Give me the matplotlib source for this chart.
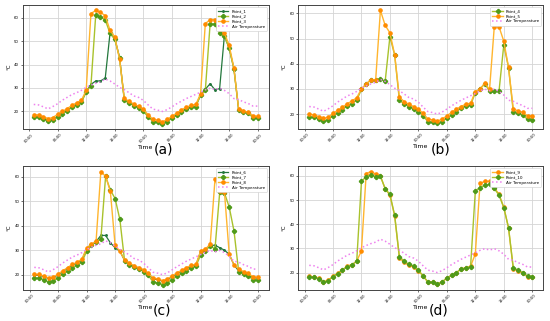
import numpy as np
import matplotlib
matplotlib.use("Agg")
import matplotlib.pyplot as plt

# hourly readings, hour 1 .. 48 (two days)
hours = np.arange(1, 49)
tick_hours = [0, 6, 12, 18, 24, 30, 36, 42, 48]
tick_labels = ["00:00", "06:00", "12:00", "18:00", "00:00", "06:00", "12:00", "18:00", "00:00"]

air_temp = [23.0, 22.8, 22.0, 21.1, 22.1, 23.3, 24.8, 26.0, 27.2, 28.0, 29.0, 30.3, 31.2, 32.0, 32.6, 33.8,
            33.0, 31.7, 30.3, 29.3, 28.0, 26.6, 26.0, 24.7, 22.8, 21.0, 20.6, 20.0, 20.8, 22.0, 23.3, 24.4,
            25.5, 26.4, 27.3, 28.2, 29.2, 29.9, 29.3, 29.9, 29.0, 27.6, 25.5, 25.1, 24.1, 23.4, 22.3, 22.3]

point_1 = [17.9, 17.8, 17.1, 16.2, 16.6, 18.0, 19.3, 20.5, 21.9, 23.0, 24.1, 28.5, 31.5, 33.0, 33.0, 34.2,
           53.3, 51.0, 43.2, 25.0, 23.7, 22.7, 21.7, 20.3, 18.0, 15.9, 15.6, 15.0, 15.9, 17.3, 18.6, 20.0,
           21.1, 22.0, 22.3, 27.0, 29.5, 31.8, 29.3, 29.7, 52.3, 47.0, 38.3, 20.7, 20.0, 19.5, 17.6, 17.4]
point_2 = [17.7, 17.6, 16.9, 16.0, 16.4, 17.8, 19.1, 20.3, 21.7, 22.8, 23.9, 28.3, 31.0, 61.0, 60.2, 59.0,
           53.3, 50.8, 42.8, 24.8, 23.5, 22.5, 21.5, 20.1, 17.8, 15.7, 15.4, 14.8, 15.7, 17.1, 18.4, 19.8,
           20.9, 21.8, 22.1, 27.0, 29.0, 57.2, 57.2, 53.5, 52.0, 47.0, 38.0, 20.5, 19.8, 19.3, 17.4, 17.2]
point_3 = [18.6, 18.5, 17.8, 17.0, 17.4, 18.8, 20.0, 21.2, 22.6, 23.7, 24.8, 29.0, 61.7, 63.0, 62.2, 60.8,
           54.6, 51.8, 42.4, 25.6, 24.3, 23.2, 22.2, 20.9, 18.6, 16.6, 16.3, 15.6, 16.6, 18.0, 19.3, 20.7,
           21.8, 22.6, 23.0, 27.5, 57.4, 59.1, 59.1, 55.0, 53.4, 48.2, 38.5, 21.0, 20.3, 19.6, 18.2, 17.9]

point_4 = [18.7, 18.8, 18.0, 17.3, 17.8, 19.3, 20.5, 21.8, 23.2, 24.2, 25.5, 29.8, 32.0, 33.5, 33.5, 34.0,
           33.0, 50.8, 43.5, 25.5, 24.0, 23.0, 22.0, 21.0, 19.3, 17.0, 16.7, 16.3, 17.0, 18.3, 19.7, 21.0,
           22.3, 23.3, 23.6, 28.5, 30.0, 32.0, 29.2, 29.2, 29.2, 47.5, 38.5, 21.0, 20.3, 19.5, 18.0, 17.8]
point_5 = [20.0, 19.7, 19.0, 18.3, 18.7, 20.3, 21.5, 22.7, 24.1, 25.2, 26.5, 30.0, 32.0, 33.7, 33.7, 61.2,
           55.3, 52.3, 43.6, 26.7, 25.0, 23.9, 23.0, 22.0, 20.3, 18.0, 17.7, 17.2, 18.0, 19.3, 20.7, 22.0,
           23.0, 24.0, 24.3, 28.9, 30.0, 32.3, 29.8, 54.8, 54.7, 49.0, 38.6, 22.0, 21.3, 20.7, 19.3, 19.3]

point_6 = [19.8, 19.8, 19.2, 18.4, 18.7, 20.0, 21.3, 22.6, 23.9, 24.8, 26.0, 30.5, 32.0, 33.5, 36.0, 36.0,
           33.0, 31.0, 29.6, 25.8, 24.4, 23.4, 22.6, 21.8, 20.2, 18.3, 18.0, 17.3, 18.0, 19.2, 20.5, 21.5,
           22.6, 23.5, 23.9, 29.5, 30.0, 32.0, 32.0, 31.0, 30.0, 28.3, 24.0, 21.5, 20.8, 20.0, 18.8, 18.6]
point_7 = [18.6, 18.6, 18.0, 17.0, 17.5, 18.8, 20.2, 21.5, 22.8, 23.8, 25.1, 29.5, 32.0, 33.3, 34.5, 60.1,
           54.5, 51.0, 42.5, 25.5, 24.0, 23.0, 22.2, 21.3, 19.7, 17.0, 16.7, 16.0, 16.8, 18.0, 19.3, 20.5,
           21.7, 22.7, 23.4, 28.2, 29.8, 31.7, 30.5, 53.7, 53.3, 47.5, 37.8, 21.0, 20.3, 19.5, 18.0, 17.8]
point_8 = [20.1, 20.1, 19.5, 18.7, 19.0, 20.3, 21.6, 22.9, 24.2, 25.1, 26.3, 30.8, 32.4, 33.7, 62.0, 60.1,
           53.9, 32.0, 29.5, 26.0, 24.7, 23.7, 22.9, 22.1, 20.5, 18.6, 18.3, 17.6, 18.3, 19.5, 20.8, 21.8,
           22.9, 23.8, 24.2, 29.7, 30.5, 32.4, 58.8, 53.9, 53.5, 28.3, 24.0, 22.3, 21.3, 20.5, 19.2, 19.0]

point_9 = [18.4, 18.1, 17.6, 16.2, 16.8, 18.4, 19.7, 21.1, 22.6, 23.3, 24.7, 29.0, 61.0, 61.8, 60.8, 59.9,
           54.7, 52.0, 43.5, 26.0, 24.3, 23.0, 22.3, 20.8, 18.6, 16.1, 15.9, 15.3, 16.1, 17.7, 18.9, 20.0,
           21.4, 22.0, 22.6, 27.7, 56.9, 57.8, 57.8, 55.0, 52.5, 47.0, 38.5, 21.5, 20.8, 19.8, 18.3, 18.0]
point_10 = [18.3, 18.0, 17.5, 16.1, 16.7, 18.3, 19.6, 21.0, 22.5, 23.2, 24.6, 57.7, 59.7, 60.4, 59.6, 59.9,
            54.7, 52.4, 43.7, 26.5, 24.8, 23.4, 22.8, 21.0, 18.6, 16.1, 15.9, 15.3, 16.1, 17.7, 18.9, 20.0,
            21.4, 22.0, 22.5, 53.8, 55.2, 56.1, 56.6, 54.8, 52.0, 46.9, 38.6, 22.0, 21.0, 20.0, 18.6, 18.2]

# line styles
dark = dict(color="#23773c", lw=0.9, marker=".", ms=2.2)
lime = dict(color="#a9c22c", lw=1.0, marker="P", ms=2.8, mfc="#4f9a1a", mec="#4f9a1a")
oran = dict(color="#ffb52e", lw=1.0, marker="o", ms=2.3, mfc="#ff8c00", mec="#ff8c00")
air = dict(color="violet", lw=1.1, ls=":")

fig = plt.figure(figsize=(5.5, 3.21), dpi=100)

panels = [
    ([0.041, 0.597, 0.448, 0.388], [("Point_1", point_1, dark), ("Point_2", point_2, lime), ("Point_3", point_3, oran)], "(a)", (0.297, 0.535)),
    ([0.542, 0.598, 0.446, 0.387], [("Point_4", point_4, lime), ("Point_5", point_5, oran)], "(b)", (0.802, 0.535)),
    ([0.042, 0.096, 0.447, 0.387], [("Point_6", point_6, dark), ("Point_7", point_7, lime), ("Point_8", point_8, oran)], "(c)", (0.295, 0.032)),
    ([0.542, 0.098, 0.446, 0.385], [("Point_9", point_9, oran), ("Point_10", point_10, lime)], "(d)", (0.797, 0.032)),
]

for rect, series, tag, tagpos in panels:
    ax = fig.add_axes(rect)
    for name, vals, st in series:
        ax.plot(hours, vals, label=name, **st)
    ax.plot(hours, air_temp, label="Air Temperature", **air)
    ax.set_xticks(tick_hours)
    ax.set_xticklabels(tick_labels, rotation=45, fontsize=2.6)
    ax.set_yticks([20, 30, 40, 50, 60])
    ax.tick_params(axis="y", labelsize=2.8, length=1.5, width=0.4, pad=1)
    ax.tick_params(axis="x", length=1.5, width=0.4, pad=1)
    ax.grid(True, color="#d4d4d4", lw=0.6)
    ax.set_axisbelow(True)
    for s in ax.spines.values():
        s.set_color("#444444")
        s.set_linewidth(0.7)
    ax.set_xlabel("Time", fontsize=4.5, labelpad=1)
    ax.set_ylabel("°C", fontsize=4, labelpad=2)
    leg = ax.legend(loc="upper right", fontsize=3, handlelength=2.5, borderpad=0.5,
                    labelspacing=0.3, framealpha=1, edgecolor="#cccccc")
    leg.get_frame().set_linewidth(0.4)
    fig.text(tagpos[0], tagpos[1], tag, fontsize=10, ha="center", va="center")

fig.savefig("out.png", dpi=100)
